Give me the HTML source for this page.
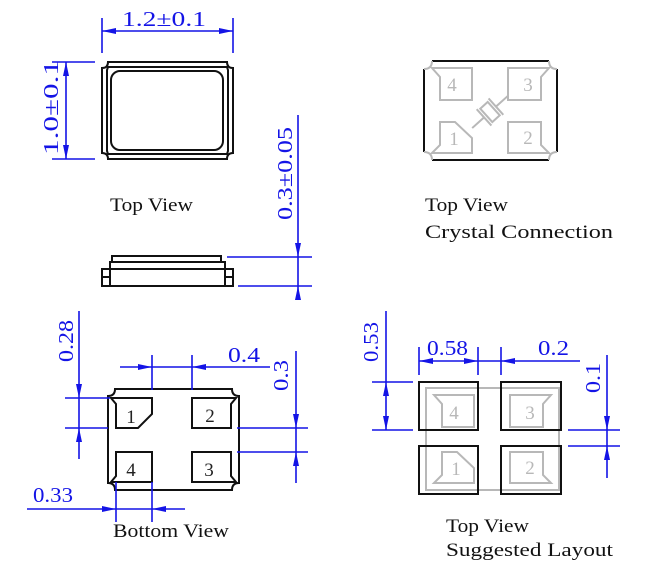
<!DOCTYPE html>
<html><head><meta charset="utf-8"><style>
html,body{margin:0;padding:0;background:#fff;}
svg{display:block;}
.d{fill:#1414e6;font-family:"Liberation Serif",serif;font-size:21px;}
.t{fill:#111;font-family:"Liberation Serif",serif;font-size:19px;}
.n{font-family:"Liberation Serif",serif;font-size:19px;text-anchor:middle;}
.bl{stroke:#1414e6;stroke-width:1.6;fill:none;}
.ar{fill:#1414e6;}
.k{stroke:#111;stroke-width:2;fill:none;}
.g{stroke:#b8b8b8;stroke-width:2;fill:none;}
</style></head><body>
<svg width="647" height="576" viewBox="0 0 647 576" xmlns="http://www.w3.org/2000/svg">
<!-- TOP VIEW package -->
<path class="k" d="M108,62 L227,62 Q227,68 233,68 L233,153 Q227,153 227,159 L108,159 Q108,153 102,153 L102,68 Q108,68 108,62 Z"/>
<path class="k" stroke-width="1.4" d="M108,67 L227,67 L228,70 L228,151 L227,154 L108,154 L107,151 L107,70 Z"/>
<rect class="k" stroke-width="2.6" x="111" y="71" width="112" height="79" rx="9"/>
<!-- 1.2 dim -->
<line class="bl" x1="102" y1="18" x2="102" y2="53"/><line class="bl" x1="233" y1="18" x2="233" y2="53"/>
<line class="bl" x1="102" y1="31" x2="233" y2="31"/>
<polygon class="ar" points="102,31 116,28 116,34"/><polygon class="ar" points="233,31 219,28 219,34"/>
<text class="d" x="122" y="26" textLength="84" lengthAdjust="spacingAndGlyphs">1.2±0.1</text>
<!-- 1.0 dim -->
<line class="bl" x1="52" y1="62" x2="95" y2="62"/><line class="bl" x1="52" y1="159" x2="95" y2="159"/>
<line class="bl" x1="66" y1="62" x2="66" y2="159"/>
<polygon class="ar" points="66,62 63,76 69,76"/><polygon class="ar" points="66,159 63,145 69,145"/>
<text class="d" transform="translate(58,155) rotate(-90)" x="0" y="0" textLength="95" lengthAdjust="spacingAndGlyphs">1.0±0.1</text>
<text class="t" x="110" y="211" textLength="83" lengthAdjust="spacingAndGlyphs">Top View</text>
<!-- side view -->
<rect class="k" stroke-width="1.6" x="112" y="256" width="109" height="6"/>
<rect class="k" stroke-width="1.8" x="110" y="262" width="115" height="24"/>
<line class="k" stroke-width="1.4" x1="110" y1="269" x2="225" y2="269"/>
<rect class="k" stroke-width="1.6" x="102" y="269" width="8" height="17"/>
<rect class="k" stroke-width="1.6" x="225" y="269" width="8" height="17"/>
<line class="k" stroke-width="1.2" x1="102" y1="277" x2="110" y2="277"/><line class="k" stroke-width="1.2" x1="225" y1="277" x2="233" y2="277"/>
<!-- 0.3±0.05 -->
<line class="bl" x1="227" y1="257" x2="312" y2="257"/><line class="bl" x1="238" y1="286" x2="312" y2="286"/>
<line class="bl" x1="298" y1="115" x2="298" y2="300"/>
<polygon class="ar" points="298,257 295,243 301,243"/><polygon class="ar" points="298,286 295,300 301,300"/>
<text class="d" transform="translate(292,220) rotate(-90)" textLength="93" lengthAdjust="spacingAndGlyphs">0.3±0.05</text>

<!-- CRYSTAL VIEW -->
<line class="k" x1="432" y1="61" x2="549" y2="61"/><line class="k" x1="432" y1="160" x2="549" y2="160"/>
<line class="k" x1="424" y1="69" x2="424" y2="152"/><line class="k" x1="557" y1="69" x2="557" y2="152"/>
<g class="g">
<path d="M432,61 Q432,69 424,69 M549,61 Q549,69 557,69 M432,160 Q432,152 424,152 M549,160 Q549,152 557,152"/>
<path d="M432,68 L472,68 L472,100 L440,100 L440,77 Z"/>
<path d="M508,68 L549,68 L541,77 L541,100 L508,100 Z"/>
<path d="M440,122 L455,122 L472,138 L472,153 L432,153 L440,145 Z"/>
<path d="M508,122 L541,122 L541,145 L549,153 L508,153 Z"/>
<g transform="rotate(-42 490 112)"><line x1="466" y1="112" x2="482" y2="112"/><line x1="498" y1="112" x2="514" y2="112"/><line x1="482" y1="101" x2="482" y2="123"/><line x1="498" y1="101" x2="498" y2="123"/><rect x="485" y="103" width="10" height="18"/></g>
</g>
<g class="n" fill="#b8b8b8"><text x="452" y="91">4</text><text x="528" y="91">3</text><text x="454" y="145">1</text><text x="528" y="144">2</text></g>
<text class="t" x="425" y="211" textLength="83" lengthAdjust="spacingAndGlyphs">Top View</text>
<text class="t" x="425" y="238" textLength="188" lengthAdjust="spacingAndGlyphs">Crystal Connection</text>

<!-- BOTTOM VIEW -->
<path class="k" d="M115,389 L232,389 Q232,396 239,396 L239,483 Q232,483 232,490 L115,490 Q115,483 108,483 L108,396 Q115,396 115,389 Z"/>
<path class="k" d="M116,428 L116,404 L111,398 L152,398 L152,414 L138,428 Z"/>
<path class="k" d="M192,398 L236,398 L231,404 L231,428 L192,428 Z"/>
<path class="k" d="M116,452 L152,452 L152,482 L111,482 L116,476 Z"/>
<path class="k" d="M192,452 L231,452 L231,476 L236,482 L192,482 Z"/>
<g class="n" fill="#222"><text x="131" y="423">1</text><text x="210" y="422">2</text><text x="131" y="476">4</text><text x="209" y="476">3</text></g>
<!-- 0.28 -->
<line class="bl" x1="65" y1="398" x2="110" y2="398"/><line class="bl" x1="65" y1="428" x2="108" y2="428"/>
<line class="bl" x1="79" y1="311" x2="79" y2="459"/>
<polygon class="ar" points="79,398 76,384 82,384"/><polygon class="ar" points="79,428 76,442 82,442"/>
<text class="d" transform="translate(73,362) rotate(-90)" textLength="42" lengthAdjust="spacingAndGlyphs">0.28</text>
<!-- 0.4 -->
<line class="bl" x1="152" y1="355" x2="152" y2="390"/><line class="bl" x1="192" y1="355" x2="192" y2="390"/>
<line class="bl" x1="120" y1="367" x2="270" y2="367"/>
<polygon class="ar" points="152,367 138,364 138,370"/><polygon class="ar" points="192,367 206,364 206,370"/>
<text class="d" x="228" y="362" textLength="32" lengthAdjust="spacingAndGlyphs">0.4</text>
<!-- 0.3 -->
<line class="bl" x1="237" y1="428" x2="308" y2="428"/><line class="bl" x1="237" y1="452" x2="308" y2="452"/>
<line class="bl" x1="296" y1="351" x2="296" y2="483"/>
<polygon class="ar" points="296,428 293,414 299,414"/><polygon class="ar" points="296,452 293,466 299,466"/>
<text class="d" transform="translate(288,391) rotate(-90)" textLength="31" lengthAdjust="spacingAndGlyphs">0.3</text>
<!-- 0.33 -->
<line class="bl" x1="116" y1="482" x2="116" y2="522"/><line class="bl" x1="152" y1="482" x2="152" y2="522"/>
<line class="bl" x1="27" y1="509" x2="185" y2="509"/>
<polygon class="ar" points="116,509 102,506 102,512"/><polygon class="ar" points="152,509 166,506 166,512"/>
<text class="d" x="33" y="502" textLength="40" lengthAdjust="spacingAndGlyphs">0.33</text>
<text class="t" x="113" y="537" textLength="116" lengthAdjust="spacingAndGlyphs">Bottom View</text>

<!-- SUGGESTED LAYOUT -->
<g transform="translate(2,327)">
<g class="g">
<rect x="424" y="61" width="133" height="102"/>
<path d="M432,68 L472,68 L472,100 L440,100 L440,77 Z"/>
<path d="M508,68 L549,68 L541,77 L541,100 L508,100 Z"/>
<path d="M440,125 L455,125 L472,141 L472,156 L432,156 L440,148 Z"/>
<path d="M508,125 L541,125 L541,148 L549,156 L508,156 Z"/>
</g>
<g class="n" fill="#b8b8b8"><text x="452" y="92">4</text><text x="528" y="92">3</text><text x="454" y="148">1</text><text x="528" y="147">2</text></g>
</g>
<rect class="k" x="419" y="382" width="59" height="48"/>
<rect class="k" x="501" y="382" width="60" height="48"/>
<rect class="k" x="419" y="446" width="59" height="48"/>
<rect class="k" x="501" y="446" width="60" height="48"/>
<!-- 0.58 / 0.2 -->
<line class="bl" x1="419" y1="347" x2="419" y2="375"/><line class="bl" x1="478" y1="347" x2="478" y2="375"/><line class="bl" x1="501" y1="347" x2="501" y2="375"/>
<line class="bl" x1="419" y1="361" x2="580" y2="361"/>
<polygon class="ar" points="419,361 433,358 433,364"/><polygon class="ar" points="478,361 464,358 464,364"/><polygon class="ar" points="501,361 515,358 515,364"/>
<text class="d" x="427" y="355" textLength="41" lengthAdjust="spacingAndGlyphs">0.58</text>
<text class="d" x="538" y="355" textLength="31" lengthAdjust="spacingAndGlyphs">0.2</text>
<!-- 0.53 -->
<line class="bl" x1="372" y1="382" x2="413" y2="382"/><line class="bl" x1="372" y1="430" x2="413" y2="430"/>
<line class="bl" x1="386" y1="311" x2="386" y2="430"/>
<polygon class="ar" points="386,382 383,396 389,396"/><polygon class="ar" points="386,430 383,416 389,416"/>
<text class="d" transform="translate(378,362) rotate(-90)" textLength="40" lengthAdjust="spacingAndGlyphs">0.53</text>
<!-- 0.1 -->
<line class="bl" x1="568" y1="430" x2="620" y2="430"/><line class="bl" x1="568" y1="446" x2="620" y2="446"/>
<line class="bl" x1="607" y1="355" x2="607" y2="478"/>
<polygon class="ar" points="607,430 604,416 610,416"/><polygon class="ar" points="607,446 604,460 610,460"/>
<text class="d" transform="translate(600,393) rotate(-90)" textLength="30" lengthAdjust="spacingAndGlyphs">0.1</text>
<text class="t" x="446" y="532" textLength="83" lengthAdjust="spacingAndGlyphs">Top View</text>
<text class="t" x="446" y="556" textLength="167" lengthAdjust="spacingAndGlyphs">Suggested Layout</text>
</svg>
</body></html>
